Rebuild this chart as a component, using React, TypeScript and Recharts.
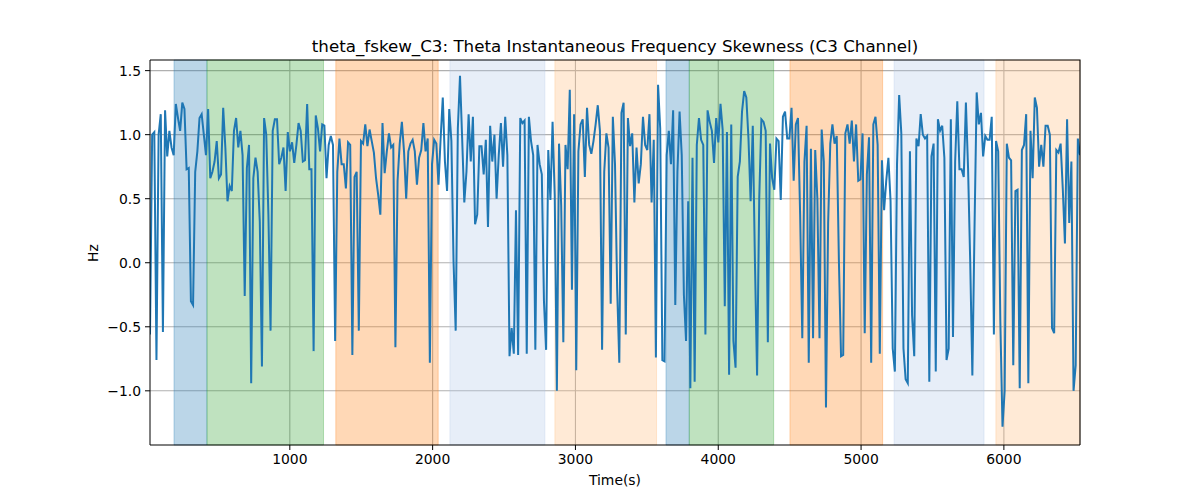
import React from 'react'
import {
  CartesianGrid,
  Line,
  LineChart,
  ReferenceArea,
  XAxis,
  YAxis,
} from 'recharts'

// time range of the recording (s)
const START = 21
const END = 6533

// theta instantaneous frequency skewness, C3 (Hz), read left to right
const fskew = [
  -0.56, 1.0, 1.02, -0.76, 1.0, 1.16, -0.54, 1.19, 0.83, 1.03, 0.9, 0.84, 1.24, 1.13, 1.03, 1.25,
  1.2, 0.73, 0.74, -0.3, -0.33, 0.71, 0.87, 1.13, 1.16, 1.0, 0.84, 1.2, 0.66, 0.71, 0.79, 0.95,
  0.66, 0.69, 1.21, 0.9, 0.48, 0.6, 0.56, 1.03, 1.13, 0.9, 1.03, 0.84, -0.26, 0.74, 0.92,
  -0.94, 0.66, 0.82, 0.71, 0.32, -0.81, 1.13, 1.0, 0.375, -0.53, 1.03, 1.12, 1.12, 0.77, 0.82, 0.9,
  0.56, 1.02, 0.87, 0.94, 0.78, 0.92, 1.09, 1.03, 0.79, 0.8, 1.24, 0.73, 0.73, -0.69, 1.15, 1.05,
  0.87, 1.08, 1.07, 0.66, 0.92, 0.99, 0.92, -0.61, 0.71, 0.97, 0.77, 0.77, 0.58, 0.94, 0.92, -0.72, 0.67,
  0.71, -0.53, 0.95, 0.93, 1.08, 0.91, 1.04, 0.95, 0.86, 0.66, 0.53, 0.375, 1.09, 0.7, 0.87, 1.01,
  0.9, 0.92, -0.66, 0.64, 0.93, 1.1, 0.87, 0.5, 0.87, 0.93, 0.96, 0.87, 0.61, 0.82, 0.88, 1.09,
  0.87, 0.97, -0.78, 0.77, 0.96, 0.93, 0.61, 0.97, 1.29, 0.79, 0.56, 1.2, 0.95, 0.01, -0.53, 1.05, 1.46,
  0.97, 0.47, 0.71, 1.16, 0.79, 1.14, 0.3, 0.375, 0.91, 0.91, 0.69, 0.96, 0.28, 1.07, 0.79, 1.0,
  0.5, 0.84, 1.09, 0.75, 1.14, 0.84, -0.73, -0.51, -0.71, 0.41, -0.72, 1.13, 1.09, 1.11, -0.71, 1.14,
  0.95, 0.84, -0.68, 0.92, 0.77, 0.69, -0.3, -0.68, 0.88, 0.49, 1.1, 0.53, -1.0, 0.93, 0.45, -0.62, 0.92,
  0.73, 1.35, -0.21, 1.16, -0.84, 0.87, 1.08, 1.12, 0.67, 1.21, 0.92, 0.85, 0.95, 1.08, 1.23, 1.03,
  -0.68, 0.71, 1.01, 0.9, -0.32, 1.14, 0.77, -0.2, -0.78, 1.17, 1.25, -0.56, 1.13, 0.91, 1.01, 0.47,
  0.9, 0.62, 0.77, 1.14, 0.92, 0.88, 1.16, 0.47, 0.96, -0.74, 1.39, 1.05, -0.76, -0.77, 0.84, 1.03, 0.77,
  1.19, -0.33, 0.71, 1.18, 0.84, -0.25, -0.61, 0.48, -0.98, 0.82, -0.93, 0.92, 1.13, 0.96, 0.92, -0.56,
  1.19, 1.1, 1.03, 0.78, 1.13, 0.94, 1.24, 1.04, -0.34, 1.02, -0.875, 1.08, -0.61, -0.82, 0.67, 0.79,
  1.18, 1.34, 1.29, 0.97, 0.48, 1.07, 0.01, -0.88, 0.5, 1.12, 1.1, 1.03, -0.62, 0.93, 0.66, 0.57, 0.97,
  0.95, 0.49, 1.14, 1.18, 0.97, 0.97, 1.21, 0.64, 1.08, 1.13, 0.375, -0.59, 0.79, 1.07, -0.78, 0.89,
  -0.59, 0.88, 0.5, -0.59, 1.04, 0.79, -1.13, 0.31, 0.93, 1.08, 0.93, 0.99, 0.02, -0.73, -0.72, 1.01,
  1.08, 0.93, 1.11, 0.79, 1.08, 0.64, 0.65, 1.01, -0.55, 0.69, 0.98, -0.78, 1.08, 1.14, 0.92, -0.71, 0.8,
  0.41, 0.64, 0.82, 0.48, -0.67, -0.85, 0.77, 1.31, 1.01, -0.67, -0.91, -0.94, 0.87, -0.41, -0.73, 0.97,
  0.91, 1.16, 1.0, 0.97, 0.99, -0.93, 0.83, 0.93, -0.85, 1.12, 1.03, 1.07, 0.82, -0.76, -0.67, 1.12,
  -0.58, 0.79, 1.26, 0.73, 0.73, 0.67, 1.25, 0.74, 0.01, -0.88, 0.27, 1.33, 1.08, 1.17, 0.83, 0.99, 0.96,
  0.96, 1.14, -0.56, 0.95, 0.87, -0.46, -1.28, -1.0, 0.93, 0.82, 0.8, -0.8, 0.56, 0.57, -0.98, 0.88,
  0.92, 1.16, -0.94, 1.03, 0.66, 1.29, 1.21, 0.75, 0.92, 0.75, 1.07, 1.07, 1.0, -0.51, -0.55, 0.88,
  0.86, 0.93, 0.58, 0.15, 1.12, 0.31, 0.79, -1.0, -0.8, 0.97, 0.84,
]

// shaded segments (s)
const bandStart = [189, 420, 1322, 2121, 2856, 3634, 3797, 4502, 5231, 5944]
const bandEnd = [420, 1236, 2039, 2786, 3568, 3797, 4388, 5151, 5861, 6533]
const bandKind = ['blue', 'green', 'orange', 'lightblue', 'lightorange', 'blue', 'green', 'orange', 'lightblue', 'lightorange']

const xTicks = [1000, 2000, 3000, 4000, 5000, 6000]
const yTicks = [-1.0, -0.5, 0.0, 0.5, 1.0, 1.5]

const BAND_COLOR: Record<string, string> = {
  blue: '#1f77b4',
  green: '#2ca02c',
  orange: '#ff7f0e',
  lightblue: '#aec7e8',
  lightorange: '#ffbb78',
}

const FONT = 'DejaVu Sans, sans-serif'
const tickStyle = { fill: '#000', fontSize: 13.9, fontFamily: FONT }

// plot box (px) used for the frame overlay
const PLOT = { left: 150, top: 60, right: 1080, bottom: 445 }

const data = fskew.map((v, i) => ({
  t: START + (i * (END - START)) / (fskew.length - 1),
  v,
}))

const fmtY = (v: number) => v.toFixed(1).replace('-', '\u2212')

export default function App() {
  return (
    <div style={{ position: 'absolute', left: 0, top: 0, width: 1200, height: 500, background: '#fff' }}>
      <LineChart
        width={1200}
        height={500}
        data={data}
        margin={{ top: PLOT.top, right: 1200 - PLOT.right, bottom: 13, left: 90 }}
      >
        <CartesianGrid stroke="#b0b0b0" strokeWidth={1.1} horizontalValues={yTicks} verticalValues={xTicks} />
        {bandStart.map((s, i) => (
          <ReferenceArea
            key={i}
            x1={s}
            x2={bandEnd[i]}
            fill={BAND_COLOR[bandKind[i]]}
            fillOpacity={0.3}
            stroke={BAND_COLOR[bandKind[i]]}
            strokeOpacity={0.3}
          />
        ))}
        <XAxis
          dataKey="t"
          type="number"
          domain={[START, END]}
          ticks={xTicks}
          allowDataOverflow
          tick={tickStyle}
          tickLine={{ stroke: '#000' }}
          axisLine={{ stroke: '#000' }}
          tickSize={5}
          tickMargin={4}
          height={42}
        />
        <YAxis
          type="number"
          domain={[-1.423, 1.583]}
          ticks={yTicks}
          allowDataOverflow
          tickFormatter={fmtY}
          tick={tickStyle}
          tickLine={{ stroke: '#000' }}
          axisLine={{ stroke: '#000' }}
          tickSize={5}
          tickMargin={4}
          width={60}
        />
        <Line
          type="linear"
          dataKey="v"
          stroke="#1f77b4"
          strokeWidth={2}
          dot={false}
          isAnimationActive={false}
        />
      </LineChart>
      <svg
        width={1200}
        height={500}
        style={{ position: 'absolute', left: 0, top: 0, pointerEvents: 'none' }}
        fontFamily={FONT}
      >
        <path
          d={`M${PLOT.left},${PLOT.top}H${PLOT.right}V${PLOT.bottom}`}
          fill="none"
          stroke="#000"
          strokeWidth={1.1}
        />
        <text x={615} y={52} textAnchor="middle" fontSize={16.7} fill="#000">
          theta_fskew_C3: Theta Instantaneous Frequency Skewness (C3 Channel)
        </text>
        <text x={615} y={485} textAnchor="middle" fontSize={13.9} fill="#000">
          Time(s)
        </text>
        <text transform="translate(98,253) rotate(-90)" textAnchor="middle" fontSize={13.9} fill="#000">
          Hz
        </text>
      </svg>
    </div>
  )
}
